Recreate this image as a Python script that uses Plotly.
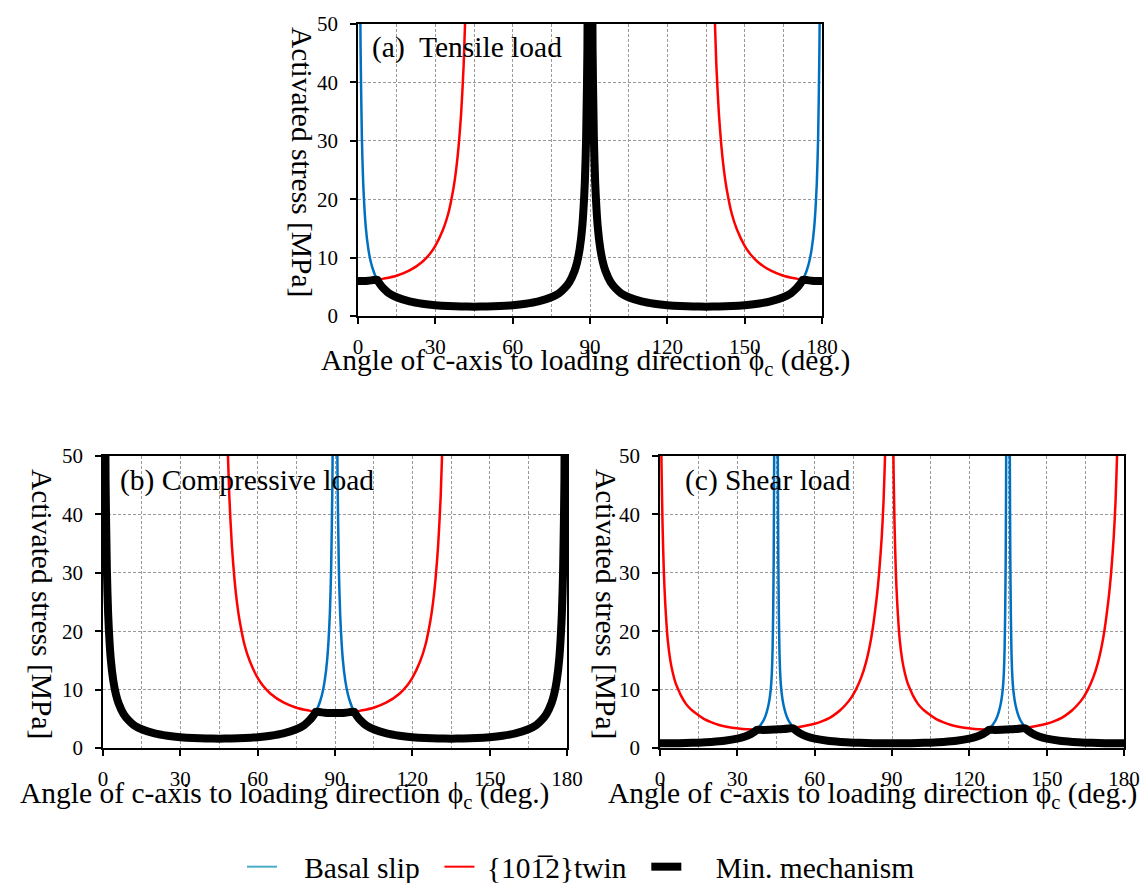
import plotly.graph_objects as go

# ---------------- data ----------------
# Basal slip under axial (tensile / compressive) load  [deg], [MPa]
ANG_BASAL_AX = [0.5, 0.75, 1, 1.5, 2, 3, 4, 5, 6, 7, 7.5, 8, 9, 10, 12, 15, 20, 25, 30, 35,
                40, 45, 50, 55, 60, 65, 70, 75, 78, 80, 81, 82, 82.5, 83, 84, 85, 86, 87, 88, 88.5,
                89, 89.25, 89.5, 90, 90.5, 90.75, 91, 91.5, 92, 93, 94, 95, 96, 97,
                97.5, 98, 99, 100, 102, 105, 110, 115, 120, 125, 130, 135, 140, 145, 150, 155,
                160, 165, 168, 170, 171, 172, 172.5, 173, 174, 175, 176, 177, 178, 178.5,
                179, 179.25, 179.5]
BASAL_AX = [91.7, 61.1, 45.8, 30.6, 22.9, 15.3, 11.5, 9.2, 7.7, 6.6, 6.2, 5.8, 5.2, 4.7, 3.9, 3.2, 2.5, 2.1, 1.85, 1.7,
            1.62, 1.6, 1.62, 1.7, 1.85, 2.1, 2.5, 3.2, 3.9, 4.7, 5.2, 5.8, 6.2, 6.6, 7.7, 9.2, 11.5, 15.3, 22.9, 30.6,
            45.8, 61.1, 91.7, None, 91.7, 61.1, 45.8, 30.6, 22.9, 15.3, 11.5, 9.2, 7.7, 6.6,
            6.2, 5.8, 5.2, 4.7, 3.9, 3.2, 2.5, 2.1, 1.85, 1.7, 1.62, 1.6, 1.62, 1.7, 1.85, 2.1,
            2.5, 3.2, 3.9, 4.7, 5.2, 5.8, 6.2, 6.6, 7.7, 9.2, 11.5, 15.3, 22.9, 30.6,
            45.8, 61.1, 91.7]

# (a) tensile load
ANG_TWIN_TEN = [0, 2, 5, 7.5, 10, 15, 20, 25, 28, 30, 33, 35, 37, 38, 39, 40, 41, 42, 43,
                90,
                137, 138, 139, 140, 141, 142, 143, 145, 147, 150, 152, 155, 160, 165, 170, 172.5, 175, 178, 180]
TWIN_TEN = [6.0, 6.0, 6.1, 6.2, 6.4, 6.9, 7.8, 9.3, 10.7, 12.0, 14.8, 17.5, 21.8, 24.8, 28.9, 34.6, 43.1, 57.4, 86.0,
            None,
            86.0, 57.4, 43.1, 34.6, 28.9, 24.8, 21.8, 17.5, 14.8, 12.0, 10.7, 9.3, 7.8, 6.9, 6.4, 6.2, 6.1, 6.0, 6.0]
ANG_MIN_TEN = [0, 2, 4, 6, 7.5, 8, 9, 10, 12, 15, 20, 25, 30, 35, 40, 45, 50, 55, 60, 65,
               70, 75, 78, 80, 82, 84, 85, 86, 87, 88, 88.5, 89, 89.5, 90,
               90.5, 91, 91.5, 92, 93, 94, 95, 96, 98, 100, 102, 105, 110, 115, 120, 125,
               130, 135, 140, 145, 150, 155, 160, 165, 168, 170, 171, 172, 172.5, 174, 176, 178, 180]
MIN_TEN = [6.0, 6.0, 6.05, 6.15, 6.2, 5.8, 5.2, 4.7, 3.9, 3.2, 2.5, 2.1, 1.85, 1.7, 1.62, 1.6, 1.62, 1.7, 1.85, 2.1,
           2.5, 3.2, 3.9, 4.7, 5.8, 7.7, 9.2, 11.5, 15.3, 22.9, 30.6, 45.8, 91.7, None,
           91.7, 45.8, 30.6, 22.9, 15.3, 11.5, 9.2, 7.7, 5.8, 4.7, 3.9, 3.2, 2.5, 2.1, 1.85, 1.7,
           1.62, 1.6, 1.62, 1.7, 1.85, 2.1, 2.5, 3.2, 3.9, 4.7, 5.2, 5.8, 6.2, 6.15, 6.05, 6.0, 6.0]

# (b) compressive load
ANG_TWIN_COMP = [47, 48, 49, 50, 51, 52, 53, 55, 57, 60, 62, 65, 70, 75, 80, 82.5, 85, 90,
                 95, 97.5, 100, 105, 110, 115, 118, 120, 123, 125, 127, 128, 129, 130, 131, 132, 133]
TWIN_COMP = [86.0, 57.4, 43.1, 34.6, 28.9, 24.8, 21.8, 17.5, 14.8, 12.0, 10.7, 9.3, 7.8, 6.9, 6.4, 6.2, 6.1, 6.0,
             6.1, 6.2, 6.4, 6.9, 7.8, 9.3, 10.7, 12.0, 14.8, 17.5, 21.8, 24.8, 28.9, 34.6, 43.1, 57.4, 86.0]
ANG_MIN_COMP = [0.5, 1, 1.5, 2, 3, 4, 5, 6, 8, 10, 12, 15, 20, 25, 30, 35, 40, 45, 50, 55,
                60, 65, 70, 75, 78, 80, 81, 82, 82.5, 84, 86, 88, 90, 92, 94, 96, 97.5, 98, 99, 100,
                102, 105, 110, 115, 120, 125, 130, 135, 140, 145, 150, 155, 160, 165, 168, 170, 172, 174, 175, 176,
                177, 178, 178.5, 179, 179.5]
MIN_COMP = [91.7, 45.8, 30.6, 22.9, 15.3, 11.5, 9.2, 7.7, 5.8, 4.7, 3.9, 3.2, 2.5, 2.1, 1.85, 1.7, 1.62, 1.6, 1.62, 1.7,
            1.85, 2.1, 2.5, 3.2, 3.9, 4.7, 5.2, 5.8, 6.2, 6.15, 6.05, 6.0, 6.0, 6.0, 6.05, 6.15, 6.2, 5.8, 5.2, 4.7,
            3.9, 3.2, 2.5, 2.1, 1.85, 1.7, 1.62, 1.6, 1.62, 1.7, 1.85, 2.1, 2.5, 3.2, 3.9, 4.7, 5.8, 7.7, 9.2, 11.5,
            15.3, 22.9, 30.6, 45.8, 91.7]

# (c) shear load
ANG_BASAL_SHEAR = [0, 10, 15, 20, 25, 30, 33, 35, 37.5, 38, 40, 41, 42, 42.5, 43, 43.4, 43.7, 43.9, 44.1, 44.25,
                   44.4, 45, 45.6, 45.75, 45.9, 46.1, 46.3, 46.6, 47, 47.5, 48, 49, 50, 52, 52.5, 55, 57, 60, 65, 70,
                   75, 80, 90, 100, 105, 110, 115, 120, 123, 125, 127.5, 128, 130, 131, 132, 132.5, 133, 133.4, 133.7, 133.9,
                   134.1, 134.25, 134.4, 135, 135.6, 135.75, 135.9, 136.1, 136.3, 136.6, 137, 137.5, 138, 139, 140, 142, 142.5, 145, 147, 150,
                   155, 160, 165, 170, 180]
BASAL_SHEAR = [0.8, 0.85, 0.92, 1.04, 1.24, 1.6, 1.97, 2.34, 3.1, 3.35, 4.6, 5.6, 7.2, 8.4, 10.2, 13.0, 17.5, 23.0, 32.0, 45.0,
               65.0, None, 65.0, 45.0, 32.0, 23.0, 17.5, 13.0, 10.2, 8.4, 7.2, 5.6, 4.6, 3.35, 3.1, 2.34, 1.97, 1.6, 1.24, 1.04,
               0.92, 0.85, 0.8, 0.85, 0.92, 1.04, 1.24, 1.6, 1.97, 2.34, 3.1, 3.35, 4.6, 5.6, 7.2, 8.4, 10.2, 13.0, 17.5, 23.0,
               32.0, 45.0, 65.0, None, 65.0, 45.0, 32.0, 23.0, 17.5, 13.0, 10.2, 8.4, 7.2, 5.6, 4.6, 3.35, 3.1, 2.34, 1.97, 1.6,
               1.24, 1.04, 0.92, 0.85, 0.8]
ANG_TWIN_SHEAR = [0.3, 0.6, 1, 1.5, 2, 3, 4, 5, 6, 7, 8, 10, 12, 14, 17, 20, 24, 28, 32, 36,
                  40, 44, 48, 52, 56, 60, 63, 66, 68, 70, 72, 74, 76, 78, 80, 82, 84, 85, 86, 86.7,
                  87.3, 88, 90,
                  90.3, 90.6, 91, 91.5, 92, 93, 94, 95, 96, 97, 98, 100, 102, 104, 107, 110, 114, 118, 122, 126,
                  130, 134, 138, 142, 146, 150, 153, 156, 158, 160, 162, 164, 166, 168, 170, 172, 174, 175, 176, 176.7,
                  177.3, 178]
TWIN_SHEAR = [60, 48, 38, 30, 25, 18.5, 15, 12.8, 11.2, 10.1, 9.1, 7.6, 6.6, 5.9, 5.0, 4.4, 3.8, 3.45, 3.25, 3.15,
              3.1, 3.15, 3.25, 3.45, 3.75, 4.15, 4.6, 5.2, 5.8, 6.5, 7.4, 8.5, 10.0, 12.0, 14.8, 19.0, 25.5, 30.0, 36.0, 42.0,
              50.0, 62.0, None,
              60, 48, 38, 30, 25, 18.5, 15, 12.8, 11.2, 10.1, 9.1, 7.6, 6.6, 5.9, 5.0, 4.4, 3.8, 3.45, 3.25, 3.15,
              3.1, 3.15, 3.25, 3.45, 3.75, 4.15, 4.6, 5.2, 5.8, 6.5, 7.4, 8.5, 10.0, 12.0, 14.8, 19.0, 25.5, 30.0, 36.0, 42.0,
              50.0, 62.0]
ANG_MIN_SHEAR = [0, 5, 10, 15, 20, 25, 30, 33, 35, 36, 37, 37.5, 38, 40, 44, 46, 48, 50, 51, 52,
                 52.5, 53, 55, 57, 60, 65, 70, 75, 80, 85, 90, 95, 100, 105, 110, 115, 120, 123, 125, 126,
                 127, 127.5, 128, 130, 134, 136, 138, 140, 141, 142, 142.5, 143, 145, 147, 150, 155, 160, 165, 170, 175, 180]
MIN_SHEAR = [0.8, 0.81, 0.85, 0.92, 1.04, 1.24, 1.6, 1.97, 2.34, 2.59, 2.9, 3.09, 3.12, 3.1, 3.15, 3.2, 3.25, 3.35, 3.4, 3.31,
             3.09, 2.9, 2.34, 1.97, 1.6, 1.24, 1.04, 0.92, 0.85, 0.81, 0.8, 0.81, 0.85, 0.92, 1.04, 1.24, 1.6, 1.97, 2.34, 2.59,
             2.9, 3.09, 3.12, 3.1, 3.15, 3.2, 3.25, 3.35, 3.4, 3.31, 3.09, 2.9, 2.34, 1.97, 1.6, 1.24, 1.04, 0.92, 0.85, 0.81, 0.8]

SERIES_NAMES = ["Basal slip", "{101\u03052}twin", "Min. mechanism"]
X_TICKS = [0, 30, 60, 90, 120, 150, 180]
Y_TICKS = [0, 10, 20, 30, 40, 50]
PANEL_LABELS = ["(a)  Tensile load", "(b) Compressive load", "(c) Shear load"]
X_TITLE = "Angle of c-axis to loading direction \u03d5<sub>c</sub> (deg.)"
Y_TITLE = "Activated stress [MPa]"

# ---------------- styling ----------------
BLUE = "#0070C0"
RED = "#FF0000"
BLACK = "#000000"
FONT = "Liberation Serif"
W, H = 1142, 883
NB = "\u00a0"

panels = [
    ("x", "y", (ANG_BASAL_AX, BASAL_AX), (ANG_TWIN_TEN, TWIN_TEN), (ANG_MIN_TEN, MIN_TEN)),
    ("x2", "y2", (ANG_BASAL_AX, BASAL_AX), (ANG_TWIN_COMP, TWIN_COMP), (ANG_MIN_COMP, MIN_COMP)),
    ("x3", "y3", (ANG_BASAL_SHEAR, BASAL_SHEAR), (ANG_TWIN_SHEAR, TWIN_SHEAR), (ANG_MIN_SHEAR, MIN_SHEAR)),
]

fig = go.Figure()
for xa, ya, basal, twin, mn in panels:
    fig.add_trace(go.Scatter(x=basal[0], y=basal[1], mode="lines", xaxis=xa, yaxis=ya,
                             line=dict(color=BLUE, width=2.5, shape="spline", smoothing=0.6),
                             showlegend=False, connectgaps=False))
    fig.add_trace(go.Scatter(x=twin[0], y=twin[1], mode="lines", xaxis=xa, yaxis=ya,
                             line=dict(color=RED, width=2.5, shape="spline", smoothing=0.6),
                             showlegend=False, connectgaps=False))
    fig.add_trace(go.Scatter(x=mn[0], y=mn[1], mode="lines", xaxis=xa, yaxis=ya,
                             line=dict(color=BLACK, width=8, shape="spline", smoothing=0.6),
                             showlegend=False, connectgaps=False))

# legend entries (names padded for the spacing seen in the reference)
legend_names = [NB * 3 + SERIES_NAMES[0] + NB * 2,
                NB + SERIES_NAMES[1] + NB * 2,
                NB * 4 + SERIES_NAMES[2]]
for name, col, wd in zip(legend_names, ["#4BACC6", RED, BLACK], [2, 2, 8]):
    fig.add_trace(go.Scatter(x=[None], y=[None], mode="lines", name=name,
                             line=dict(color=col, width=wd), xaxis="x", yaxis="y"))


def px_x(p):
    return p / W


def px_y(p):
    return 1 - p / H


grid = dict(gridcolor="#9a9a9a", griddash="3px,2px", gridwidth=1)
common = dict(ticks="outside", ticklen=6, tickwidth=1.5, tickcolor="black",
              showline=True, linecolor="black", linewidth=1.5, mirror=True,
              showgrid=True, zeroline=False,
              tickfont=dict(family=FONT, size=21, color="black"), **grid)


def xaxis(l, r, anchor):
    return dict(domain=[px_x(l), px_x(r)], range=[0, 180], tickvals=X_TICKS, anchor=anchor,
                ticklabelstandoff=5,
                minor=dict(dtick=15, tick0=0, showgrid=True, ticks="", **grid), **common)


def yaxis(t, b, anchor):
    return dict(domain=[px_y(b), px_y(t)], range=[0, 50], tickvals=Y_TICKS, anchor=anchor,
                ticklabelstandoff=8, **common)


fig.update_layout(
    width=W, height=H, margin=dict(l=0, r=0, t=0, b=0, autoexpand=False),
    paper_bgcolor="white", plot_bgcolor="white",
    font=dict(family=FONT, color="black"),
    xaxis=xaxis(358, 822, "y"), yaxis=yaxis(24, 316, "x"),
    xaxis2=xaxis(103, 567, "y2"), yaxis2=yaxis(456, 748, "x2"),
    xaxis3=xaxis(660, 1124, "y3"), yaxis3=yaxis(456, 748, "x3"),
    showlegend=True,
    legend=dict(orientation="h", xref="container", yref="container",
                x=px_x(242), xanchor="left", y=px_y(867), yanchor="middle",
                font=dict(family=FONT, size=29.5, color="black"), bgcolor="rgba(0,0,0,0)",
                itemwidth=30, tracegroupgap=0),
)

ann = []
big = dict(family=FONT, size=29.5, color="black")
for txt, (x, y) in zip(PANEL_LABELS, [(370, 48), (118, 481), (683, 481)]):
    ann.append(dict(text=txt, x=px_x(x), y=px_y(y), xref="paper", yref="paper",
                    xanchor="left", yanchor="middle", showarrow=False, font=big))
for (x, y) in [(585, 362), (284, 795), (872, 795)]:
    ann.append(dict(text=X_TITLE, x=px_x(x), y=px_y(y), xref="paper", yref="paper",
                    xanchor="center", yanchor="middle", showarrow=False, font=big))
for (x, y) in [(302, 162), (42, 604), (606, 604)]:
    ann.append(dict(text=Y_TITLE, x=px_x(x), y=px_y(y), xref="paper", yref="paper",
                    xanchor="center", yanchor="middle", textangle=90, showarrow=False, font=big))
fig.update_layout(annotations=ann)

fig.write_html("out.html")
